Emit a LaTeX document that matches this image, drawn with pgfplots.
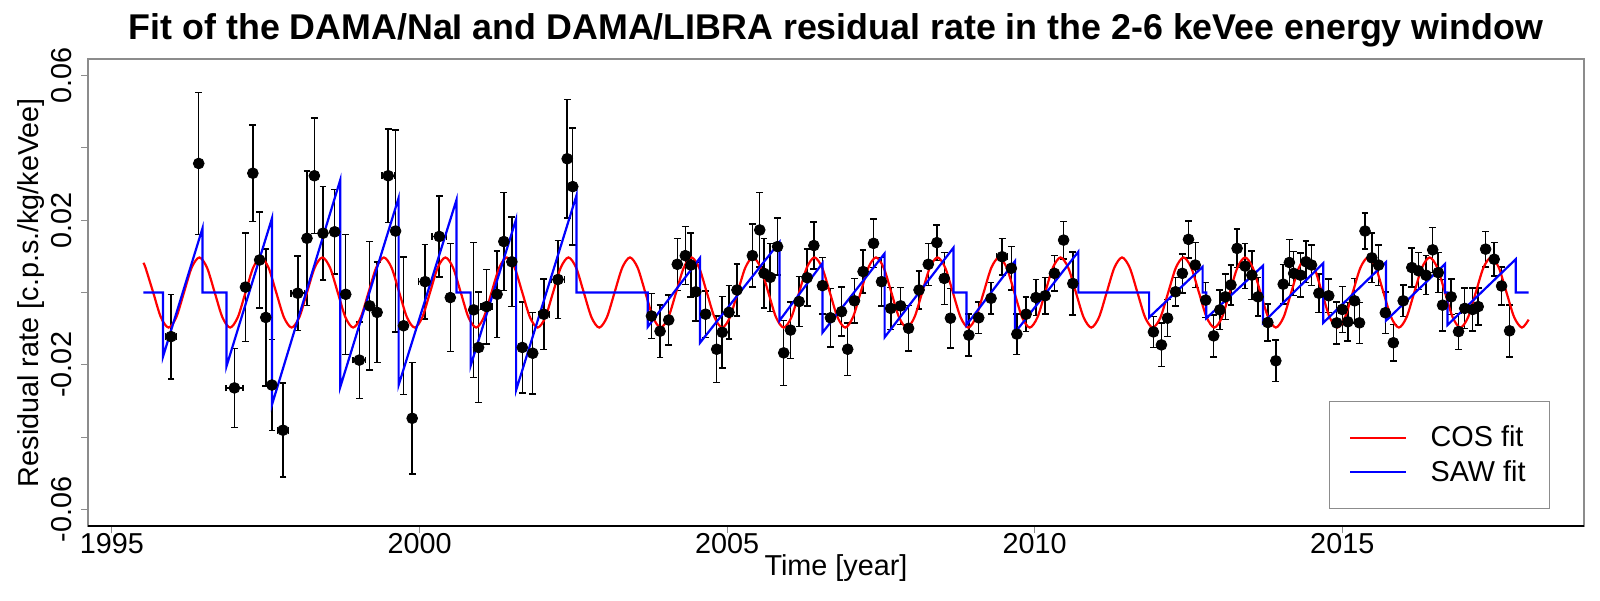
\documentclass[border=0pt]{standalone}
\usepackage{fontspec}
\setmainfont{Liberation Sans}
\usepackage{pgfplots}
\usepackage{pgfplotstable}
\pgfplotsset{compat=1.18}

% residual rate points: time, rate, time error, rate error
\pgfplotstableread{
t r ex ey
1995.96 -0.0122 0.09 0.0117
1996.41 0.0357 0 0.0196
1996.99 -0.0264 0.14 0.0109
1997.17 0.0015 0 0.0150
1997.29 0.0330 0 0.0133
1997.40 0.0090 0 0.0133
1997.50 -0.0069 0 0.0190
1997.60 -0.0256 0 0.0126
1997.78 -0.0381 0.09 0.0130
1998.02 -0.0002 0.11 0.0103
1998.17 0.0150 0 0.0186
1998.29 0.0323 0 0.0160
1998.43 0.0164 0 0.0129
1998.62 0.0168 0 0.0117
1998.80 -0.0005 0 0.0166
1999.02 -0.0187 0.10 0.0106
1999.19 -0.0037 0 0.0178
1999.31 -0.0055 0 0.0139
1999.49 0.0323 0.10 0.0130
1999.61 0.0170 0 0.0279
1999.74 -0.0092 0 0.0190
1999.88 -0.0348 0 0.0154
2000.09 0.0030 0.11 0.0103
2000.32 0.0155 0.12 0.0112
2000.50 -0.0014 0 0.0149
2000.88 -0.0048 0 0.0187
2000.96 -0.0152 0 0.0153
2001.09 -0.0039 0.09 0.0103
2001.26 -0.0005 0 0.0120
2001.37 0.0141 0 0.0136
2001.50 0.0085 0 0.0124
2001.67 -0.0152 0 0.0126
2001.84 -0.0168 0 0.0113
2002.02 -0.0060 0.09 0.0098
2002.25 0.0036 0.11 0.0108
2002.40 0.0370 0 0.0164
2002.49 0.0293 0 0.0162
2003.77 -0.0065 0 0.0062
2003.91 -0.0107 0 0.0073
2004.05 -0.0076 0 0.0069
2004.19 0.0078 0 0.0072
2004.32 0.0102 0 0.0080
2004.41 0.0076 0 0.0088
2004.49 0.0002 0 0.0081
2004.65 -0.0060 0 0.0064
2004.83 -0.0157 0 0.0092
2004.92 -0.0110 0 0.0099
2005.03 -0.0055 0 0.0074
2005.16 0.0007 0 0.0072
2005.41 0.0102 0 0.0087
2005.53 0.0173 0 0.0103
2005.60 0.0053 0 0.0096
2005.70 0.0042 0 0.0094
2005.82 0.0127 0 0.0079
2005.92 -0.0167 0 0.0090
2006.03 -0.0104 0 0.0078
2006.17 -0.0025 0 0.0069
2006.30 0.0041 0 0.0079
2006.41 0.0130 0 0.0065
2006.55 0.0019 0 0.0078
2006.68 -0.0070 0 0.0081
2006.86 -0.0053 0 0.0068
2006.96 -0.0157 0 0.0072
2007.07 -0.0023 0 0.0062
2007.21 0.0058 0 0.0060
2007.38 0.0136 0 0.0067
2007.51 0.0030 0 0.0067
2007.66 -0.0044 0 0.0058
2007.82 -0.0037 0 0.0051
2007.95 -0.0099 0 0.0063
2008.12 0.0007 0 0.0053
2008.27 0.0078 0 0.0058
2008.41 0.0138 0 0.0049
2008.53 0.0039 0 0.0072
2008.63 -0.0071 0 0.0082
2008.93 -0.0118 0 0.0058
2009.09 -0.0070 0 0.0044
2009.29 -0.0016 0 0.0044
2009.47 0.0099 0.09 0.0050
2009.62 0.0067 0 0.0060
2009.71 -0.0115 0 0.0056
2009.86 -0.0060 0 0.0048
2010.02 -0.0014 0 0.0050
2010.17 -0.0009 0 0.0051
2010.32 0.0053 0 0.0049
2010.47 0.0145 0 0.0052
2010.62 0.0025 0 0.0087
2011.93 -0.0109 0 0.0043
2012.06 -0.0145 0 0.0060
2012.16 -0.0071 0 0.0051
2012.29 0.0002 0 0.0040
2012.40 0.0053 0 0.0054
2012.50 0.0147 0 0.0051
2012.61 0.0076 0 0.0062
2012.78 -0.0021 0.05 0.0048
2012.91 -0.0120 0 0.0058
2013.01 -0.0048 0 0.0055
2013.10 -0.0012 0 0.0063
2013.19 0.0021 0 0.0055
2013.29 0.0122 0 0.0053
2013.42 0.0073 0 0.0062
2013.53 0.0048 0 0.0067
2013.63 -0.0012 0 0.0053
2013.79 -0.0083 0 0.0051
2013.92 -0.0189 0 0.0057
2014.04 0.0023 0 0.0055
2014.14 0.0083 0 0.0064
2014.21 0.0053 0 0.0061
2014.32 0.0048 0 0.0061
2014.41 0.0085 0 0.0058
2014.50 0.0076 0 0.0056
2014.62 -0.0002 0 0.0053
2014.78 -0.0009 0 0.0046
2014.91 -0.0084 0 0.0058
2015.00 -0.0047 0 0.0064
2015.09 -0.0081 0 0.0053
2015.20 -0.0023 0 0.0062
2015.28 -0.0084 0 0.0057
2015.37 0.0170 0 0.0050
2015.48 0.0096 0 0.0068
2015.59 0.0076 0 0.0056
2015.70 -0.0056 0 0.0058
2015.83 -0.0139 0 0.0050
2015.99 -0.0023 0 0.0044
2016.13 0.0069 0 0.0054
2016.24 0.0060 0 0.0051
2016.36 0.0048 0 0.0054
2016.47 0.0118 0 0.0062
2016.56 0.0055 0 0.0055
2016.63 -0.0035 0 0.0071
2016.77 -0.0012 0 0.0049
2016.89 -0.0108 0 0.0050
2016.99 -0.0044 0 0.0056
2017.12 -0.0047 0 0.0060
2017.21 -0.0039 0 0.0051
2017.33 0.0120 0 0.0049
2017.47 0.0092 0 0.0047
2017.59 0.0018 0 0.0053
2017.72 -0.0106 0 0.0072
}\residuals

\newcommand{\lblfont}{\fontsize{14.4}{17}\selectfont}

\begin{document}
\begin{tikzpicture}
\begin{axis}[
    at={(0,0)}, anchor=south west,
    scale only axis,
    width=748pt, height=233.5pt,
    xmin=1994.61, xmax=2018.93,
    ymin=-0.0646, ymax=0.0646,
    xtick={1995,2000,2005,2010,2015},
    xticklabels={1995,2000,2005,2010,2015},
    ytick={-0.06,-0.04,-0.02,0,0.02,0.04,0.06},
    yticklabels={-0.06,,-0.02,,0.02,,0.06},
    scaled y ticks=false,
    xtick pos=bottom, ytick pos=left,
    tick align=outside,
    major tick length=3.5pt,
    tick style={black!45, line width=0.5pt},
    axis line style={black!45, line width=0.6pt},
    /pgf/number format/assume math mode=true,
    tick label style={font=\lblfont},
    xticklabel style={anchor=north, inner sep=0pt},
    yticklabel style={rotate=90, anchor=south, inner sep=0pt},
    yticklabel shift=4.5pt,
    title={Fit of the DAMA/NaI and DAMA/LIBRA residual rate in the 2-6 keVee energy window},
    every axis title/.style={font=\bfseries\fontsize{17.9}{21}\selectfont,
        at={(axis description cs:0.5,1.0428)}, anchor=base},
    xlabel={Time [year]},
    xlabel style={font=\lblfont, at={(axis description cs:0.5,-0.1070)}, anchor=base},
    ylabel={Residual rate [c.p.s./kg/keVee]},
    ylabel style={font=\lblfont, at={(axis description cs:-0.0334,0.5)}, anchor=base},
    legend style={at={(axis description cs:0.9773,0.0364)}, anchor=south east,
        draw=black!45, line width=0.5pt, fill=white, font=\lblfont,
        inner xsep=10pt, inner ysep=10.2pt, row sep=1.3pt,
        cells={anchor=west}},
    legend image code/.code={
        \draw[#1] (0pt,0pt) -- (28pt,0pt);
    },
    /tikz/every odd column/.append style={column sep=9.7pt},
    extra description/.code={
        \draw[black, line width=0.6pt] (0,0) -- (1,0);
    },
]

\addplot[only marks, mark=*, mark size=2.7pt, black, forget plot,
    error bars/.cd,
    x dir=both, x explicit, y dir=both, y explicit,
    error bar style={line width=0.75pt, black},
    error mark options={rotate=90, line width=0.75pt, mark size=1.7pt}]
    table[x=t, y=r, x error=ex, y error=ey] {\residuals};

\addplot[red, line width=1.1pt, smooth] coordinates {
(1995.51,0.0082) (1995.545,0.00686) (1995.67,0) (1995.795,-0.00686) (1995.92,-0.0097)
(1996.045,-0.00686) (1996.17,0) (1996.295,0.00686) (1996.42,0.0097) (1996.545,0.00686) (1996.67,0) (1996.795,-0.00686) (1996.92,-0.0097)
(1997.045,-0.00686) (1997.17,0) (1997.295,0.00686) (1997.42,0.0097) (1997.545,0.00686) (1997.67,0) (1997.795,-0.00686) (1997.92,-0.0097)
(1998.045,-0.00686) (1998.17,0) (1998.295,0.00686) (1998.42,0.0097) (1998.545,0.00686) (1998.67,0) (1998.795,-0.00686) (1998.92,-0.0097)
(1999.045,-0.00686) (1999.17,0) (1999.295,0.00686) (1999.42,0.0097) (1999.545,0.00686) (1999.67,0) (1999.795,-0.00686) (1999.92,-0.0097)
(2000.045,-0.00686) (2000.17,0) (2000.295,0.00686) (2000.42,0.0097) (2000.545,0.00686) (2000.67,0) (2000.795,-0.00686) (2000.92,-0.0097)
(2001.045,-0.00686) (2001.17,0) (2001.295,0.00686) (2001.42,0.0097) (2001.545,0.00686) (2001.67,0) (2001.795,-0.00686) (2001.92,-0.0097)
(2002.045,-0.00686) (2002.17,0) (2002.295,0.00686) (2002.42,0.0097) (2002.545,0.00686) (2002.67,0) (2002.795,-0.00686) (2002.92,-0.0097)
(2003.045,-0.00686) (2003.17,0) (2003.295,0.00686) (2003.42,0.0097) (2003.545,0.00686) (2003.67,0) (2003.795,-0.00686) (2003.92,-0.0097)
(2004.045,-0.00686) (2004.17,0) (2004.295,0.00686) (2004.42,0.0097) (2004.545,0.00686) (2004.67,0) (2004.795,-0.00686) (2004.92,-0.0097)
(2005.045,-0.00686) (2005.17,0) (2005.295,0.00686) (2005.42,0.0097) (2005.545,0.00686) (2005.67,0) (2005.795,-0.00686) (2005.92,-0.0097)
(2006.045,-0.00686) (2006.17,0) (2006.295,0.00686) (2006.42,0.0097) (2006.545,0.00686) (2006.67,0) (2006.795,-0.00686) (2006.92,-0.0097)
(2007.045,-0.00686) (2007.17,0) (2007.295,0.00686) (2007.42,0.0097) (2007.545,0.00686) (2007.67,0) (2007.795,-0.00686) (2007.92,-0.0097)
(2008.045,-0.00686) (2008.17,0) (2008.295,0.00686) (2008.42,0.0097) (2008.545,0.00686) (2008.67,0) (2008.795,-0.00686) (2008.92,-0.0097)
(2009.045,-0.00686) (2009.17,0) (2009.295,0.00686) (2009.42,0.0097) (2009.545,0.00686) (2009.67,0) (2009.795,-0.00686) (2009.92,-0.0097)
(2010.045,-0.00686) (2010.17,0) (2010.295,0.00686) (2010.42,0.0097) (2010.545,0.00686) (2010.67,0) (2010.795,-0.00686) (2010.92,-0.0097)
(2011.045,-0.00686) (2011.17,0) (2011.295,0.00686) (2011.42,0.0097) (2011.545,0.00686) (2011.67,0) (2011.795,-0.00686) (2011.92,-0.0097)
(2012.045,-0.00686) (2012.17,0) (2012.295,0.00686) (2012.42,0.0097) (2012.545,0.00686) (2012.67,0) (2012.795,-0.00686) (2012.92,-0.0097)
(2013.045,-0.00686) (2013.17,0) (2013.295,0.00686) (2013.42,0.0097) (2013.545,0.00686) (2013.67,0) (2013.795,-0.00686) (2013.92,-0.0097)
(2014.045,-0.00686) (2014.17,0) (2014.295,0.00686) (2014.42,0.0097) (2014.545,0.00686) (2014.67,0) (2014.795,-0.00686) (2014.92,-0.0097)
(2015.045,-0.00686) (2015.17,0) (2015.295,0.00686) (2015.42,0.0097) (2015.545,0.00686) (2015.67,0) (2015.795,-0.00686) (2015.92,-0.0097)
(2016.045,-0.00686) (2016.17,0) (2016.295,0.00686) (2016.42,0.0097) (2016.545,0.00686) (2016.67,0) (2016.795,-0.00686) (2016.92,-0.0097)
(2017.045,-0.00686) (2017.17,0) (2017.295,0.00686) (2017.42,0.0097) (2017.545,0.00686) (2017.67,0) (2017.795,-0.00686) (2017.92,-0.0097)
(2018.03,-0.0075)
};
\addlegendentry{COS fit}

\addplot[blue, line width=1.1pt] coordinates {
(1995.51,0) (1995.83,0) (1995.83,-0.0177) (1996.47,0.0177) (1996.47,0)
(1996.86,0) (1996.86,-0.0205) (1997.60,0.0205) (1997.60,-0.0311)
(1998.71,0.0311) (1998.71,-0.0262) (1999.66,0.0262) (1999.66,-0.0256)
(2000.60,0.0256) (2000.60,0) (2000.83,0) (2000.83,-0.0203) (2001.57,0.0203)
(2001.57,-0.0270) (2002.55,0.0268) (2002.55,0) (2003.71,0) (2003.71,-0.0095)
(2004.56,0.0096) (2004.56,-0.0139) (2005.85,0.0139) (2005.85,-0.0078)
(2006.55,0.0081) (2006.55,-0.0111) (2007.56,0.0108) (2007.56,-0.0124)
(2008.68,0.0124) (2008.68,0) (2008.89,0) (2008.89,-0.0090) (2009.68,0.0087)
(2009.68,-0.0111) (2010.71,0.0113) (2010.71,0) (2011.86,0) (2011.86,-0.0069)
(2012.73,0.0071) (2012.73,0) (2012.79,0) (2012.79,-0.0071) (2013.71,0.0074)
(2013.71,-0.0084) (2014.69,0.0081) (2014.69,-0.0084) (2015.71,0.0084)
(2015.71,-0.0078) (2016.67,0.0079) (2016.67,0) (2016.71,0) (2016.71,-0.0090)
(2017.82,0.0092) (2017.82,0) (2018.03,0)
};
\addlegendentry{SAW fit}

\end{axis}
\pgfresetboundingbox
\path[use as bounding box] (-44pt,-37pt) rectangle (756pt,263pt);
\end{tikzpicture}
\end{document}
